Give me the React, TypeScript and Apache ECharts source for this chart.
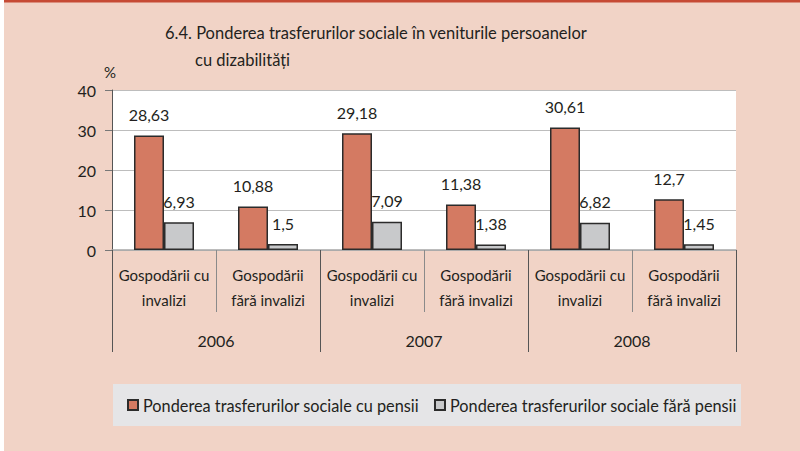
import React, { useEffect, useRef } from "react";
import * as echarts from "echarts";

const categories = [
  "Gospodării cu\ninvalizi",
  "Gospodării\nfără invalizi",
  "Gospodării cu\ninvalizi",
  "Gospodării\nfără invalizi",
  "Gospodării cu\ninvalizi",
  "Gospodării\nfără invalizi",
];
const years = ["2006", "2007", "2008"];
const withPensions = [28.63, 10.88, 29.18, 11.38, 30.61, 12.7];
const withoutPensions = [6.93, 1.5, 7.09, 1.38, 6.82, 1.45];
const seriesNames = [
  "Ponderea trasferurilor sociale cu pensii",
  "Ponderea trasferurilor sociale fără pensii",
];
const yTicks = { min: 0, max: 40, interval: 10 };

const FONT = "Lato";
const TXT = "#231f20";

export default function App() {
  const ref = useRef<HTMLDivElement>(null);
  useEffect(() => {
    document.body.style.margin = "0";
    const chart = echarts.init(ref.current!, null, { renderer: "svg" });
    const fmt = (p: any) => String(p.value).replace(".", ",");
    chart.setOption({
      animation: false,
      backgroundColor: "#f1d3c6",
      textStyle: { fontFamily: FONT },
      graphic: [
        { type: "rect", shape: { x: 0, y: 0, width: 4, height: 451 }, style: { fill: "#ffffff" }, silent: true },
        { type: "rect", shape: { x: 4, y: 0, width: 796, height: 2.5 }, style: { fill: "#c64a34" }, silent: true },
        { type: "rect", z: -1, shape: { x: 113, y: 384, width: 628, height: 42 }, style: { fill: "#e5e5e7" }, silent: true },
        {
          type: "text", x: 165, y: 33,
          style: { text: "6.4. Ponderea trasferurilor sociale în veniturile persoanelor", fill: TXT, font: `16.5px ${FONT}`, verticalAlign: "middle" },
        },
        {
          type: "text", x: 195, y: 60,
          style: { text: "cu dizabilități", fill: TXT, font: `16.5px ${FONT}`, verticalAlign: "middle" },
        },
        {
          type: "text", x: 104, y: 72,
          style: { text: "%", fill: TXT, font: `15px ${FONT}`, verticalAlign: "middle" },
        },
      ],
      legend: {
        left: 127,
        top: 397,
        icon: "rect",
        itemWidth: 10,
        itemHeight: 10,
        itemGap: 15,
        padding: 0,
        textStyle: { fontSize: 16.3, color: TXT, fontFamily: FONT },
        data: seriesNames,
      },
      grid: {
        left: 112,
        right: 64,
        top: 90,
        bottom: 201,
        show: true,
        backgroundColor: "#ffffff",
        borderWidth: 0,
      },
      xAxis: [
        {
          type: "category",
          data: categories,
          position: "bottom",
          axisLine: { show: true, lineStyle: { color: "#a6a6a6", width: 1.5 } },
          axisTick: { show: true, length: 62, lineStyle: { color: "#8a8a8a", width: 1 } },
          axisLabel: { fontSize: 15, color: TXT, lineHeight: 25, margin: 12, fontFamily: FONT, interval: 0 },
        },
        {
          type: "category",
          data: years,
          position: "bottom",
          axisLine: { show: false },
          axisTick: { show: true, length: 102, lineStyle: { color: "#555555", width: 1 } },
          axisLabel: { fontSize: 16, color: TXT, lineHeight: 18, margin: 81, fontFamily: FONT },
        },
      ],
      yAxis: {
        type: "value",
        min: yTicks.min,
        max: yTicks.max,
        interval: yTicks.interval,
        axisLine: { show: true, lineStyle: { color: "#555555", width: 1 } },
        axisTick: { show: true, length: 7, lineStyle: { color: "#777777" } },
        axisLabel: { fontSize: 16, color: TXT, margin: 16, fontFamily: FONT },
        splitLine: { show: true, lineStyle: { color: "#bdbdbd", width: 1 } },
      },
      series: [
        {
          name: seriesNames[0],
          type: "bar",
          xAxisIndex: 0,
          data: withPensions,
          barWidth: 30,
          barGap: "0%",
          itemStyle: { color: "#d47a62", borderColor: "#2b2b2b", borderWidth: 1.5 },
          label: { show: true, position: "top", distance: 13, fontSize: 16, color: TXT, formatter: fmt, fontFamily: FONT },
        },
        {
          name: seriesNames[1],
          type: "bar",
          xAxisIndex: 0,
          data: withoutPensions,
          barWidth: 30,
          barGap: "0%",
          itemStyle: { color: "#c8c9cb", borderColor: "#2b2b2b", borderWidth: 1.5 },
          label: { show: true, position: "top", distance: 13, fontSize: 16, color: TXT, formatter: fmt, fontFamily: FONT },
        },
      ],
    });
    return () => chart.dispose();
  }, []);
  return <div ref={ref} style={{ width: 800, height: 451 }} />;
}
